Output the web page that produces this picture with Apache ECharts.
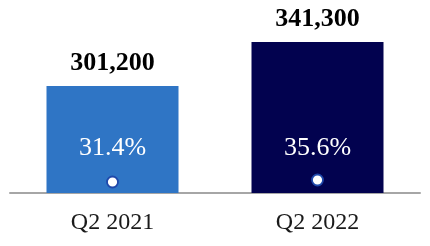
<!DOCTYPE html>
<html>
<head>
<meta charset="utf-8">
<script src="https://cdn.jsdelivr.net/npm/echarts@6/dist/echarts.min.js"></script>
<style>html,body{margin:0;padding:0;background:#fff;}#c{width:430px;height:246px;}</style>
</head>
<body>
<div id="c"></div>
<script>
var categories = ['Q2 2021', 'Q2 2022'];
var values = [301200, 341300];
var percents = [31.4, 35.6];
var barColors = ['#2F75C5', '#02024F'];

var chart = echarts.init(document.getElementById('c'), null, {renderer: 'canvas'});
var font = '"Liberation Serif", "Times New Roman", serif';
chart.setOption({
  animation: false,
  grid: {left: 10, right: 10, top: 42, bottom: 53},
  xAxis: {
    type: 'category',
    data: categories,
    axisTick: {show: false},
    axisLine: {lineStyle: {color: '#A6A6A6', width: 2}},
    axisLabel: {fontFamily: font, fontSize: 24, color: '#1a1a1a', margin: 18}
  },
  yAxis: [
    {type: 'value', min: 203700, max: 341300, show: false, splitLine: {show: false}},
    {type: 'value', min: 8.3, max: 325.4, show: false, splitLine: {show: false}}
  ],
  series: [
    {
      type: 'bar',
      barWidth: 132,
      data: values.map(function (v, i) { return {value: v, itemStyle: {color: barColors[i]}}; }),
      label: {
        show: true, position: 'top', distance: 10,
        fontFamily: font, fontSize: 26, fontWeight: 'bold', color: '#000',
        formatter: function (p) { return p.value.toLocaleString('en-US'); }
      }
    },
    {
      type: 'bar',
      barWidth: 132,
      barGap: '-100%',
      data: values,
      itemStyle: {color: 'rgba(0,0,0,0)'},
      label: {
        show: true, position: 'insideBottom', distance: 32,
        fontFamily: font, fontSize: 26, color: '#fff',
        formatter: function (p) { return percents[p.dataIndex].toFixed(1) + '%'; }
      },
      z: 3
    },
    {
      type: 'scatter',
      yAxisIndex: 1,
      data: percents,
      symbol: 'circle',
      symbolSize: 11,
      itemStyle: {color: '#fff', opacity: 1, borderColor: '#1F48AA', borderWidth: 1.8},
      z: 5
    }
  ]
});
</script>
</body>
</html>
